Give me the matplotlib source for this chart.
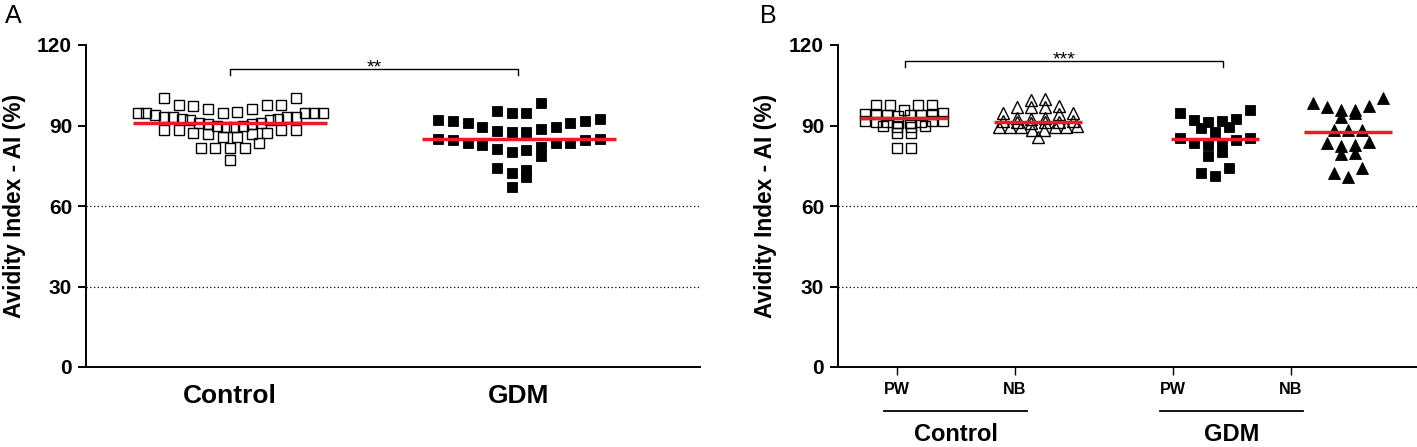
import numpy as np
import matplotlib
matplotlib.use("Agg")
import matplotlib.pyplot as plt
from matplotlib.transforms import blended_transform_factory

plt.rcParams['font.family'] = ['Liberation Sans', 'DejaVu Sans']

# ---- data (Avidity Index, %) ----
# panel A: all samples
groups_A = ['Control', 'GDM']
control_A = [100.1, 97.6, 97.6, 96.1, 95.2, 94.8, 96.0, 97.2, 97.6, 100.1,
             94.5, 94.5, 93.9, 93.3, 93.0, 92.3, 92.1, 91.1, 90.5, 89.9, 89.4,
             89.4, 89.9, 90.5, 91.1, 92.1, 92.3, 93.0, 93.3, 94.5, 94.5, 94.5,
             88.3, 88.3, 87.3, 86.7, 85.8, 85.8, 86.7, 87.3, 88.3, 88.3,
             81.5, 81.5, 83.4, 81.5, 81.5, 77.2]
gdm_A = [98.5, 95.5, 94.8, 94.8,
         92.3, 91.6, 90.8, 89.6, 88.7, 87.7, 87.7, 88.0, 89.6, 90.8, 91.6, 92.2,
         84.9, 84.7, 83.4, 82.7, 81.1, 80.3, 80.8, 82.0, 83.4, 83.4, 84.7, 84.9,
         78.6, 74.0, 72.2, 73.4, 70.9, 67.2]
mean_A = [91.1, 85.0]

# panel B: pregnant women (PW) and newborns (NB)
sub_B = ['PW', 'NB', 'PW', 'NB']
groups_B = ['Control', 'GDM']
control_pw = [97.6, 97.6, 97.6, 97.6, 95.8,
              94.5, 94.3, 94.0, 93.8, 94.2, 93.6, 94.4, 93.9,
              91.8, 91.2, 91.5, 91.0, 91.6, 91.3, 91.4, 91.1,
              89.9, 89.6, 90.0, 89.4, 87.1, 87.1, 81.5, 81.5]
control_nb = [99.8, 99.6, 97.2, 97.0, 96.8, 96.9, 94.6, 94.3, 94.5,
              92.9, 92.6, 92.7, 91.6, 91.3, 91.4, 91.2, 91.5, 91.1,
              89.6, 89.4, 89.7, 89.5, 89.6, 89.3, 88.3, 88.2, 85.8]
gdm_pw = [95.8, 94.5, 92.3, 91.8, 91.4, 92.1, 89.0, 89.6, 87.7,
          85.2, 84.6, 85.2, 83.4, 83.4, 82.7, 80.3, 78.6, 74.0, 72.2, 71.2]
gdm_nb = [100.1, 98.5, 97.3, 97.0, 95.8, 95.8, 94.8, 93.3, 88.3, 88.3, 88.3,
          84.0, 83.6, 82.7, 82.4, 79.9, 79.4, 74.0, 72.4, 70.9]
mean_B = [92.9, 91.4, 85.0, 87.5]

yticks = [0, 30, 60, 90, 120]
RED = '#ec1c24'


def swarm_offsets(values, top, bin_h, step, max_w):
    # GraphPad-like scatter: values binned in rows, lowest value in the middle
    v = np.asarray(values, float)
    idx = np.floor((top - v) / bin_h).astype(int)
    off = np.zeros(len(v))
    for b in np.unique(idx):
        m = np.where(idx == b)[0]
        m = m[np.argsort(v[m], kind='stable')]
        n = len(m)
        s = step if n < 2 else min(step, max_w / (n - 1))
        slots = (np.arange(n) - (n - 1) / 2) * s
        order = np.argsort(np.abs(slots) + 1e-6 * np.arange(n), kind='stable')
        off[m] = slots[order]
    return off


def style_axis(ax, xmax):
    ax.set_ylim(0, 120)
    ax.set_xlim(0, xmax)
    ax.set_yticks(yticks)
    ax.set_yticklabels([str(t) for t in yticks], fontsize=15, fontweight='bold')
    for s in ['top', 'right']:
        ax.spines[s].set_visible(False)
    for s in ['left', 'bottom']:
        ax.spines[s].set_linewidth(1.4)
    ax.tick_params(axis='y', length=6, width=1.4, pad=4)
    for g in [30, 60]:
        ax.axhline(g, color='black', ls=(0, (1, 2)), lw=0.9, zorder=0)
    ax.set_ylabel('Avidity Index - AI (%)', fontsize=16.4, fontweight='bold')


def draw_group(ax, vals, centre, mean, half, marker, filled, ms, top, bin_h, step, max_w):
    x = centre + swarm_offsets(vals, top, bin_h, step, max_w)
    ax.plot(x, vals, ls='none', marker=marker, ms=ms,
            mfc='black' if filled else 'none', mec='black',
            mew=0.6 if filled else 1.0, zorder=3)
    ax.plot([centre - half, centre + half], [mean, mean], color=RED, lw=2.5,
            solid_capstyle='butt', zorder=4)


def bracket(ax, x1, x2, y_hi, y_lo, stars, y_txt):
    ax.plot([x1, x1, x2, x2], [y_lo, y_hi, y_hi, y_lo], color='black', lw=1.0,
            clip_on=False)
    ax.text((x1 + x2) / 2, y_txt, stars, ha='center', va='baseline', fontsize=14)


fig = plt.figure(figsize=(14.17, 4.47), dpi=100)

# ---- panel A ----
axA = fig.add_axes([86 / 1417, 80 / 447, 614 / 1417, 322 / 447])
style_axis(axA, 6.14)
pos_A = [1.44, 4.33]
draw_group(axA, control_A, pos_A[0], mean_A[0], 0.97, 's', False, 7.6,
           max(control_A), 5.4, 0.147, 1.85)
draw_group(axA, gdm_A, pos_A[1], mean_A[1], 0.97, 's', True, 7.8,
           100.7, 7.2, 0.147, 1.85)
axA.set_xticks(pos_A)
axA.set_xticklabels(groups_A, fontsize=19, fontweight='bold')
axA.tick_params(axis='x', length=0, pad=12)
axA.yaxis.set_label_coords(-0.097, 0.5)
bracket(axA, pos_A[0], pos_A[1] - 0.01, 111.1, 108.8, '**', 109.6)

# ---- panel B ----
axB = fig.add_axes([838 / 1417, 80 / 447, 579 / 1417, 322 / 447])
style_axis(axB, 5.79)
pos_B = [0.66, 2.00, 3.77, 5.10]
tick_B = [0.59, 1.77, 3.35, 4.53]
sets_B = [(control_pw, 's', False, 7.6, 2.5),
          (control_nb, '^', False, 8.7, 2.5),
          (gdm_pw, 's', True, 7.6, 5.0),
          (gdm_nb, '^', True, 8.0, 5.0)]
for (vals, mk, fl, ms, bh), c, m in zip(sets_B, pos_B, mean_B):
    draw_group(axB, vals, c, m, 0.44, mk, fl, ms, max(vals), bh, 0.14, 0.78)
axB.set_xticks(tick_B)
axB.set_xticklabels(sub_B, fontsize=11.6, fontweight='bold')
axB.tick_params(axis='x', length=6, width=1.0, pad=5)
axB.yaxis.set_label_coords(-0.106, 0.5)
bracket(axB, pos_B[0] + 0.01, 3.85, 114.2, 111.9, '***', 112.8)

trB = blended_transform_factory(axB.transData, axB.transAxes)
for i, name in enumerate(groups_B):
    x1 = tick_B[2 * i] - 0.13
    x2 = tick_B[2 * i + 1] + 0.12
    axB.plot([x1, x2], [-0.137, -0.137], color='black', lw=1.3,
             transform=trB, clip_on=False)
    axB.text((x1 + x2) / 2, -0.211, name, transform=trB, ha='center',
             va='center', fontsize=17, fontweight='bold')

fig.text(13 / 1417, 1 - 16 / 447, 'A', fontsize=18, ha='center', va='center')
fig.text(768 / 1417, 1 - 16 / 447, 'B', fontsize=18, ha='center', va='center')

fig.savefig('out.png', dpi=100)
